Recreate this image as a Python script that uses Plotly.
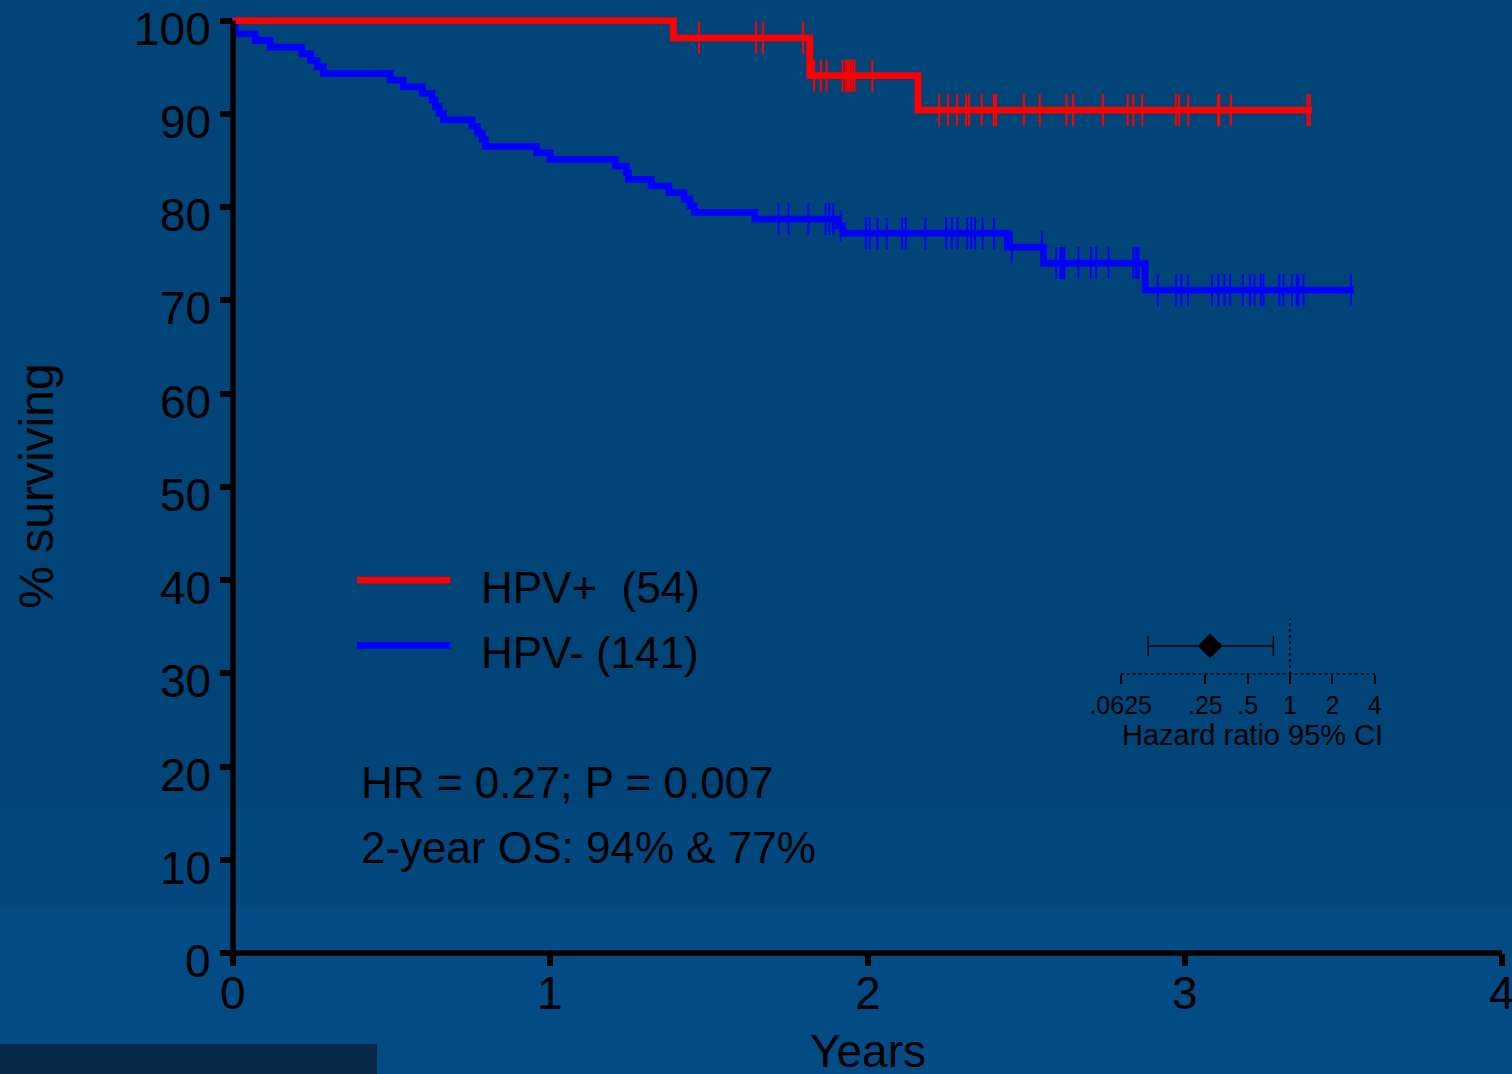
import numpy as np
import plotly.graph_objects as go

FONT = "Liberation Sans, Arial, Helvetica, sans-serif"

# HPV-positive arm (n=54): Kaplan-Meier steps (years, % surviving)
pos_event_years = [0.0, 1.388, 1.818, 2.159]
pos_surv = [100.0, 98.15, 94.1, 90.4]
pos_last_year = 3.401
pos_censor_years = [1.469, 1.649, 1.671, 1.797,
                    1.832, 1.853, 1.871, 1.921, 1.931, 1.938, 1.944, 1.952, 1.959, 2.015,
                    2.226, 2.254, 2.282, 2.311, 2.320, 2.360, 2.398, 2.405, 2.493, 2.543,
                    2.627, 2.648, 2.742, 2.820, 2.838, 2.866, 2.972, 2.982, 3.011, 3.105,
                    3.109, 3.145, 3.387, 3.394]

# HPV-negative arm (n=141)
neg_event_years = [0.0, 0.003, 0.008, 0.070, 0.118, 0.217, 0.244, 0.265, 0.285, 0.496,
                   0.537, 0.596, 0.627, 0.638, 0.649, 0.663, 0.753, 0.771, 0.786, 0.795,
                   0.957, 1.000, 1.205, 1.240, 1.247, 1.318, 1.374, 1.422, 1.440, 1.454,
                   1.645, 1.907, 1.922, 2.441, 2.555, 2.875]
neg_surv = [100.0, 99.29, 98.58, 97.87, 97.16, 96.45, 95.74, 95.04, 94.33, 93.62,
            92.91, 92.20, 91.49, 90.78, 90.07, 89.36, 88.65, 87.94, 87.23, 86.52,
            85.82, 85.11, 84.40, 83.69, 82.98, 82.27, 81.56, 80.85, 80.14, 79.43,
            78.72, 78.0, 77.2, 75.7, 74.0, 71.1]
neg_last_year = 3.532
neg_censor_years = [1.720, 1.751, 1.814, 1.868, 1.880, 1.892, 1.916,
                    1.995, 2.007, 2.031, 2.061, 2.109, 2.121, 2.182, 2.248, 2.266, 2.284,
                    2.314, 2.327, 2.339, 2.363, 2.399, 2.455, 2.550,
                    2.595, 2.608, 2.613, 2.620, 2.665, 2.704, 2.721, 2.760, 2.838, 2.847,
                    2.854, 2.915, 2.973, 2.989, 3.010, 3.086, 3.106, 3.125, 3.143, 3.183,
                    3.206, 3.220, 3.240, 3.248, 3.298, 3.311, 3.338, 3.353, 3.358, 3.374,
                    3.524]

# Hazard ratio with 95% CI
hr_point = 0.27
hr_low = 0.098
hr_high = 0.761
hr_ticks = [0.0625, 0.25, 0.5, 1, 2, 4]
hr_ticktext = [".0625", ".25", ".5", "1", "2", "4"]

x_ticks = [0, 1, 2, 3, 4]
y_ticks = [0, 10, 20, 30, 40, 50, 60, 70, 80, 90, 100]

legend_labels = ["HPV+\u00a0 (54)", "HPV- (141)"]
stats_lines = ["HR = 0.27; P = 0.007", "2-year OS: 94% &amp; 77%"]

RED = "#ff0000"
BLUE = "#0000ff"
BG = "#014478"

Y_TOP = 102.0


def step_xy(times, surv, last):
    return list(times) + [last], list(surv) + [surv[-1]]


def surv_at(times, surv, t):
    idx = np.searchsorted(np.asarray(times), np.asarray(t), side="right") - 1
    return np.asarray(surv)[idx]


fig = go.Figure()

for times, surv, last, cens, col in [
    (neg_event_years, neg_surv, neg_last_year, neg_censor_years, BLUE),
    (pos_event_years, pos_surv, pos_last_year, pos_censor_years, RED),
]:
    sx, sy = step_xy(times, surv, last)
    fig.add_trace(go.Scatter(x=sx, y=sy, mode="lines", line=dict(color=col, width=6.8, shape="hv"),
                             hoverinfo="skip", showlegend=False))
    fig.add_trace(go.Scatter(x=cens, y=surv_at(times, surv, cens), mode="markers",
                             marker=dict(symbol="line-ns", size=23, line=dict(color=col, width=2)),
                             hoverinfo="skip", showlegend=False))

# Inset: hazard ratio forest plot on a log axis
fig.add_trace(go.Scatter(x=[1, 1], y=[0, 2], mode="lines", xaxis="x2", yaxis="y2",
                         line=dict(color="black", width=1.5, dash="dot"),
                         hoverinfo="skip", showlegend=False))
fig.add_trace(go.Scatter(x=[hr_point], y=[1], mode="markers", xaxis="x2", yaxis="y2",
                         marker=dict(symbol="diamond", size=19, color="black"),
                         error_x=dict(type="data", symmetric=False,
                                      array=[hr_high - hr_point], arrayminus=[hr_point - hr_low],
                                      color="black", thickness=1.5, width=10),
                         hoverinfo="skip", showlegend=False))

shapes = [
    # background bands
    dict(type="rect", xref="paper", yref="paper", x0=-0.2, x1=1.02, y0=0.1535, y1=-0.14,
         fillcolor="#02487f", line=dict(width=0), layer="below"),
    dict(type="rect", xref="paper", yref="paper", x0=-0.2, x1=1.02, y0=0.05, y1=-0.14,
         fillcolor="#034b84", line=dict(width=0), layer="below"),
    dict(type="rect", xref="paper", yref="paper", x0=-0.2, x1=(377 - 233) / 1269, y0=-0.0957, y1=-0.14,
         fillcolor="#0a2949", line=dict(width=0), layer="below"),
    # axis lines
    dict(type="line", xref="paper", yref="paper", x0=0, x1=0, y0=0, y1=100 / Y_TOP,
         line=dict(color="black", width=5.5)),
    dict(type="line", xref="paper", yref="paper", x0=0, x1=1, y0=0, y1=0,
         line=dict(color="black", width=5.5)),
    # inset axis (dotted)
    dict(type="line", xref="x2 domain", yref="y2 domain", x0=0, x1=1, y0=0, y1=0,
         line=dict(color="black", width=1.5, dash="dot")),
    # legend swatches
    dict(type="line", xref="x", yref="y", x0=0.391, x1=0.685, y0=40, y1=40,
         line=dict(color=RED, width=6.8)),
    dict(type="line", xref="x", yref="y", x0=0.391, x1=0.685, y0=33, y1=33,
         line=dict(color=BLUE, width=6.8)),
]

ann = []
for v in y_ticks:
    ann.append(dict(x=0, xref="x", y=v, yref="y", text=str(v), showarrow=False,
                    xanchor="right", yanchor="middle", xshift=-20, yshift=-8,
                    font=dict(family=FONT, size=46, color="black")))
for v in x_ticks:
    ann.append(dict(x=v, xref="x", y=0, yref="y", text=str(v), showarrow=False,
                    xanchor="center", yanchor="middle", yshift=-40,
                    font=dict(family=FONT, size=46, color="black")))
ann.append(dict(x=2.0, xref="x", y=0, yref="y", text="Years", showarrow=False,
                xanchor="center", yanchor="middle", yshift=-98,
                font=dict(family=FONT, size=46, color="black")))
ann.append(dict(x=0, xref="paper", y=50, yref="y", text="% surviving", showarrow=False,
                textangle=-90, xanchor="center", yanchor="middle", xshift=-196,
                font=dict(family=FONT, size=48, color="black")))
for lab, yv in zip(legend_labels, [40, 33]):
    ann.append(dict(x=0.775, xref="x", y=yv, yref="y", text=lab, showarrow=False,
                    xanchor="left", yanchor="middle", yshift=-7,
                    font=dict(family=FONT, size=44, color="black")))
for txt, yv in zip(stats_lines, [18.26, 11.29]):
    ann.append(dict(x=0.396, xref="x", y=yv, yref="y", text=txt, showarrow=False,
                    xanchor="left", yanchor="middle",
                    font=dict(family=FONT, size=44, color="black")))
ann.append(dict(x=0.8034, xref="paper", y=0.2292, yref="paper", text="Hazard ratio 95% CI",
                showarrow=False, xanchor="center", yanchor="middle",
                font=dict(family=FONT, size=29, color="black")))

fig.update_layout(
    width=1512, height=1074,
    margin=dict(l=233, r=10, t=2, b=121, autoexpand=False),
    paper_bgcolor=BG, plot_bgcolor="rgba(0,0,0,0)",
    showlegend=False,
    shapes=shapes,
    annotations=ann,
    xaxis=dict(range=[0, 4], tickvals=x_ticks, ticks="outside", ticklen=12, tickwidth=5.5,
               tickcolor="black", showticklabels=False, showgrid=False, zeroline=False,
               showline=False, fixedrange=True),
    yaxis=dict(range=[0, Y_TOP], tickvals=y_ticks, ticks="outside", ticklen=12, tickwidth=5.5,
               tickcolor="black", showticklabels=False, showgrid=False, zeroline=False,
               showline=False, fixedrange=True),
    xaxis2=dict(type="log", domain=[0.6995, 0.8997], anchor="y2",
                range=[np.log10(hr_ticks[0]), np.log10(hr_ticks[-1])],
                tickvals=hr_ticks, ticktext=hr_ticktext, ticks="outside", ticklen=9,
                tickwidth=1.5, tickcolor="black", showgrid=False, zeroline=False,
                showline=False, tickfont=dict(family=FONT, size=25, color="black"),
                fixedrange=True),
    yaxis2=dict(domain=[0.2934, 0.3523], anchor="x2", range=[0, 2], visible=False,
                fixedrange=True),
)

fig.write_html("out.html")
